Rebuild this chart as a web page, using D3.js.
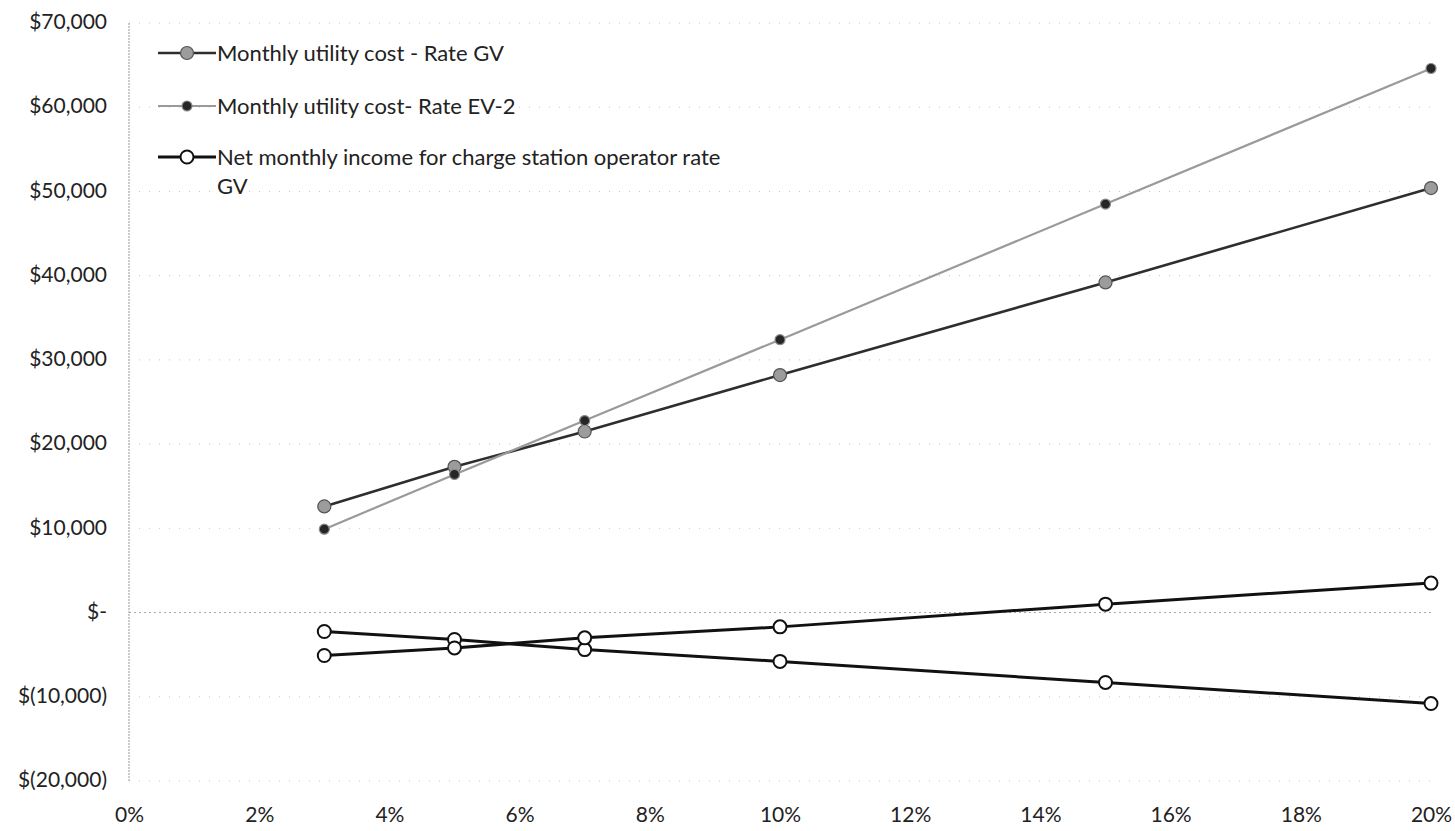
<!DOCTYPE html>
<html>
<head>
<meta charset="utf-8">
<script src="https://cdn.jsdelivr.net/npm/d3@7"></script>
<style>
  html, body { margin: 0; padding: 0; background: #fff; }
  svg { display: block; font-family: Lato, "Open Sans", sans-serif; }
</style>
</head>
<body>
<svg id="chart" width="1455" height="831"></svg>
<script>
// Share of charging (percent) on the x axis
const shares = [3, 5, 7, 10, 15, 20];

// Monthly costs and incomes, in dollars
const costRateGV = [12600, 17300, 21500, 28200, 39200, 50400];
const costRateEV2 = [9900, 16400, 22800, 32400, 48500, 64600];
const netIncomeGV = [-2250, -3200, -4400, -5800, -8300, -10800];
const netIncomeEV2 = [-5100, -4200, -3000, -1700, 1000, 3500];

const seriesNames = [
  "Monthly utility cost - Rate GV",
  "Monthly utility cost- Rate EV-2",
  "Net monthly income for charge station operator rate GV"
];

// Axis ticks
const xTicks = [0, 2, 4, 6, 8, 10, 12, 14, 16, 18, 20];
const yTicks = [-20000, -10000, 0, 10000, 20000, 30000, 40000, 50000, 60000, 70000];

const svg = d3.select("#chart");

const x = d3.scaleLinear().domain([0, 20]).range([129, 1431]);
const y = d3.scaleLinear().domain([-20000, 70000]).range([781, 23]);

const fmtMoney = v => {
  if (v === 0) return "$-";
  const s = d3.format(",")(Math.abs(v));
  return v < 0 ? "$(" + s + ")" : "$" + s;
};

// Horizontal gridlines
svg.append("g")
  .selectAll("line")
  .data(yTicks.filter(v => v !== 0))
  .join("line")
  .attr("x1", x(0)).attr("x2", x(20))
  .attr("y1", d => y(d)).attr("y2", d => y(d))
  .attr("stroke", "#c4c4c4")
  .attr("stroke-width", 1)
  .attr("stroke-dasharray", "1,9");

// Zero line
svg.append("line")
  .attr("x1", x(0)).attr("x2", x(20))
  .attr("y1", y(0)).attr("y2", y(0))
  .attr("stroke", "#a8a8a8")
  .attr("stroke-width", 1)
  .attr("stroke-dasharray", "2,3");

// Y axis line
svg.append("line")
  .attr("x1", x(0)).attr("x2", x(0))
  .attr("y1", y(70000)).attr("y2", y(-20000))
  .attr("stroke", "#9a9a9a")
  .attr("stroke-width", 1)
  .attr("stroke-dasharray", "2,1");

// Y axis labels
const yAxis = d3.axisLeft(y).tickValues(yTicks).tickFormat(fmtMoney).tickSize(0).tickPadding(22);
const gy = svg.append("g").attr("transform", `translate(${x(0)},-1)`).call(yAxis);
gy.select(".domain").remove();
gy.selectAll("text")
  .attr("font-size", 21)
  .attr("fill", "#222")
  .style("font-family", "Lato, 'Open Sans', sans-serif");

// X axis labels
const xAxis = d3.axisBottom(x).tickValues(xTicks).tickFormat(d => d + "%").tickSize(0).tickPadding(26);
const gx = svg.append("g").attr("transform", `translate(0,${y(-20000)})`).call(xAxis);
gx.select(".domain").remove();
gx.selectAll("text")
  .attr("font-size", 21)
  .attr("fill", "#222")
  .style("font-family", "Lato, 'Open Sans', sans-serif");

const line = d3.line().x(d => x(d[0])).y(d => y(d[1]));
const pts = vals => shares.map((s, i) => [s, vals[i]]);

const styles = [
  { data: costRateGV, stroke: "#2e2e2e", width: 2.6, r: 6.5, fill: "#9c9c9c", mstroke: "#555", mw: 1.2 },
  { data: costRateEV2, stroke: "#9a9a9a", width: 2.2, r: 5, fill: "#262626", mstroke: "#8a8a8a", mw: 1.2 },
  { data: netIncomeGV, stroke: "#111", width: 3, r: 6.5, fill: "#fff", mstroke: "#111", mw: 2 },
  { data: netIncomeEV2, stroke: "#111", width: 3, r: 6.5, fill: "#fff", mstroke: "#111", mw: 2 }
];

styles.forEach(st => {
  const g = svg.append("g");
  g.append("path")
    .datum(pts(st.data))
    .attr("d", line)
    .attr("fill", "none")
    .attr("stroke", st.stroke)
    .attr("stroke-width", st.width)
    .attr("stroke-linejoin", "round");
  g.selectAll("circle")
    .data(pts(st.data))
    .join("circle")
    .attr("cx", d => x(d[0]))
    .attr("cy", d => y(d[1]))
    .attr("r", st.r)
    .attr("fill", st.fill)
    .attr("stroke", st.mstroke)
    .attr("stroke-width", st.mw);
});

// Legend
const legend = svg.append("g");
const legendRows = [
  { y: 53, st: styles[0], lines: [seriesNames[0]] },
  { y: 106, st: styles[1], lines: [seriesNames[1]] },
  { y: 157, st: styles[2], lines: ["Net monthly income for charge station operator rate", "GV"] }
];
legendRows.forEach(row => {
  legend.append("line")
    .attr("x1", 158).attr("x2", 216)
    .attr("y1", row.y).attr("y2", row.y)
    .attr("stroke", row.st.stroke)
    .attr("stroke-width", row.st.width);
  legend.append("circle")
    .attr("cx", 187).attr("cy", row.y)
    .attr("r", row.st.r)
    .attr("fill", row.st.fill)
    .attr("stroke", row.st.mstroke)
    .attr("stroke-width", row.st.mw);
  const t = legend.append("text")
    .attr("x", 217).attr("y", row.y)
    .attr("font-size", 22)
    .attr("fill", "#222");
  row.lines.forEach((s, i) => {
    t.append("tspan")
      .attr("x", 217)
      .attr("dy", i === 0 ? "0.35em" : 29)
      .text(s);
  });
});
</script>
</body>
</html>
